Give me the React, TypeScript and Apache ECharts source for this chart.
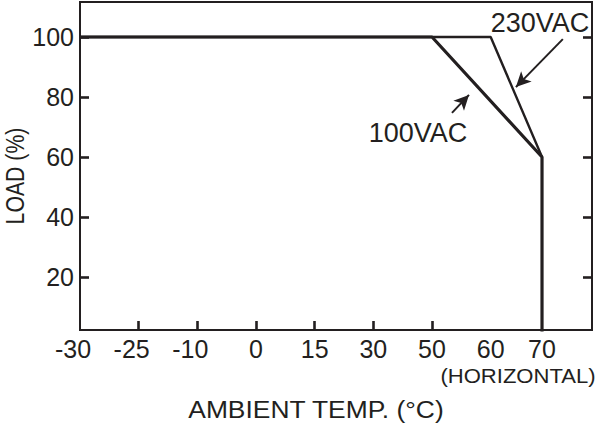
import { useEffect, useRef } from "react";
import * as echarts from "echarts";

const INK = "#231f20";
const FONT = "'Liberation Sans', Arial, sans-serif";

// x axis is drawn as printed: unevenly labelled ticks, placed by index
const xLabels = ["-30", "-25", "-10", "0", "15", "30", "50", "60", "70"];
const xTemps = [-30, -25, -10, 0, 15, 30, 50, 60, 70];
const xPos = [0, 1, 2, 3, 4, 5, 6, 7, 7.875];
const xTickTemps = [-25, -10, 0, 15, 30, 50];

const yTicks = [20, 40, 60, 80, 100];

// derating curves: [temperature, load %]
const curve100: [number, number][] = [
  [-30, 100],
  [50, 100],
  [70, 60],
  [70, 0],
];
const curve230: [number, number][] = [
  [-30, 100],
  [60, 100],
  [70, 60],
];

const pos = (t: number) => xPos[xTemps.indexOf(t)];
const toAxis = (pts: [number, number][]) => pts.map(([t, v]) => [pos(t), v]);

export default function App() {
  const ref = useRef<HTMLDivElement>(null);

  useEffect(() => {
    if (!ref.current) return;
    const chart = echarts.init(ref.current, null, { renderer: "svg" });

    const tickStyle = { show: true, inside: true, length: 9, lineStyle: { color: INK, width: 2.6 } };
    const axisLine = { show: true, lineStyle: { color: INK, width: 2 } };

    const arrow = (from: number[], to: number[]) => [
      { coord: from, symbol: "none" },
      { coord: to, symbol: "arrow", symbolSize: [11, 15] },
    ];

    const annoLabel = { show: true, position: "inside", color: INK, fontSize: 27, fontFamily: FONT };

    chart.setOption({
      animation: false,
      backgroundColor: "#ffffff",
      textStyle: { fontFamily: FONT },
      grid: {
        left: 80,
        right: 8,
        top: 2,
        bottom: 96,
        show: true,
        borderColor: INK,
        borderWidth: 2,
        outerBoundsMode: "none",
      },
      xAxis: {
        type: "value",
        min: 0,
        max: 8.727,
        axisLine,
        axisTick: { ...tickStyle, customValues: xTickTemps.map(pos) },
        axisLabel: {
          customValues: xPos,
          color: INK,
          fontSize: 25,
          fontFamily: FONT,
          margin: 6,
          formatter: (v: number) => {
            const s = xLabels[xPos.indexOf(v)] ?? "";
            return s.startsWith("-") ? `{n|${s}}` : s;
          },
          rich: {
            n: { fontSize: 25, fontFamily: FONT, color: INK, padding: [0, 14, 0, 0] },
          },
        },
        splitLine: { show: false },
      },
      yAxis: [
        {
          type: "value",
          min: 2.33,
          max: 111.67,
          axisLine,
          axisTick: { ...tickStyle, customValues: yTicks },
          axisLabel: {
            customValues: yTicks,
            color: INK,
            fontSize: 25,
            fontFamily: FONT,
            margin: 6,
          },
          splitLine: { show: false },
        },
        {
          type: "value",
          position: "right",
          min: 2.33,
          max: 111.67,
          axisLine,
          axisTick: { ...tickStyle, customValues: yTicks },
          axisLabel: { show: false },
          splitLine: { show: false },
        },
      ],
      series: [
        {
          name: "230VAC",
          type: "line",
          data: toAxis(curve230),
          symbol: "none",
          lineStyle: { color: INK, width: 2.4 },
          markLine: {
            silent: true,
            animation: false,
            label: { show: false },
            lineStyle: { color: INK, width: 2, type: "solid" },
            data: [arrow([8.23, 99.3], [7.43, 83.3])],
          },
          markPoint: {
            silent: true,
            symbol: "circle",
            symbolSize: 1,
            itemStyle: { color: "rgba(0,0,0,0)" },
            label: annoLabel,
            data: [{ coord: [7.84, 104.7], label: { formatter: "230VAC" } }],
          },
        },
        {
          name: "100VAC",
          type: "line",
          data: toAxis(curve100),
          symbol: "none",
          lineStyle: { color: INK, width: 3.2 },
          markLine: {
            silent: true,
            animation: false,
            label: { show: false },
            lineStyle: { color: INK, width: 2, type: "solid" },
            data: [arrow([6.34, 74.7], [6.63, 80.7])],
          },
          markPoint: {
            silent: true,
            symbol: "circle",
            symbolSize: 1,
            itemStyle: { color: "rgba(0,0,0,0)" },
            label: annoLabel,
            data: [{ coord: [5.76, 68], label: { formatter: "100VAC" } }],
          },
        },
      ],
      graphic: [
        {
          type: "text",
          x: 15,
          y: 176,
          rotation: Math.PI / 2,
          scaleX: 0.85,
          style: {
            text: "LOAD (%)",
            fill: INK,
            fontSize: 25,
            fontFamily: FONT,
            align: "center",
            verticalAlign: "middle",
          },
        },
        {
          type: "text",
          x: 316,
          y: 409,
          scaleX: 1.1,
          style: {
            text: "AMBIENT TEMP. (°C)",
            fill: INK,
            fontSize: 24,
            fontFamily: FONT,
            align: "center",
            verticalAlign: "middle",
          },
        },
        {
          type: "text",
          x: 518,
          y: 376,
          scaleX: 1.05,
          style: {
            text: "(HORIZONTAL)",
            fill: INK,
            fontSize: 21,
            fontFamily: FONT,
            align: "center",
            verticalAlign: "middle",
          },
        },
      ],
    });

    return () => chart.dispose();
  }, []);

  return (
    <div
      ref={ref}
      style={{ position: "fixed", left: 0, top: 0, width: 600, height: 426 }}
    />
  );
}
